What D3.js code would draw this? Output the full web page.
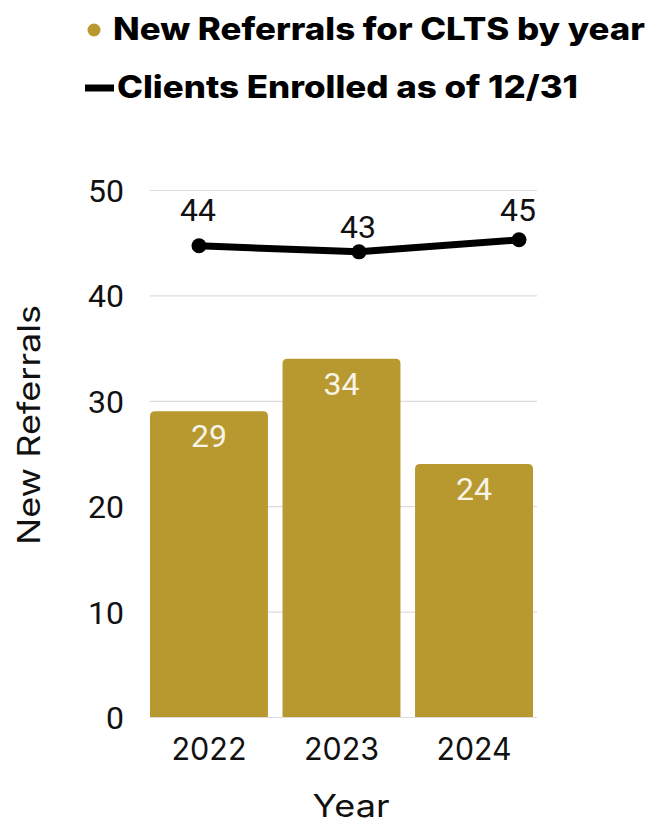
<!DOCTYPE html>
<html><head><meta charset="utf-8">
<script src="https://cdn.jsdelivr.net/npm/d3@7"></script>
<style>body{margin:0;background:#fff}</style>
</head><body>
<script>
const years = ["2022", "2023", "2024"];
const newReferrals = [29, 34, 24];
const clientsEnrolled = [44, 43, 45];
const yTicks = [0, 10, 20, 30, 40, 50];
const legendLabels = ["New Referrals for CLTS by year", "Clients Enrolled as of 12/31"];

const W = 651, H = 823;
const gold = "#b8992f";
const svg = d3.select("body").append("svg").attr("width", W).attr("height", H);

const x = d3.scaleBand().domain(years).range([150, 533]).paddingInner(0.11).paddingOuter(0);
const y = d3.scaleLinear().domain([0, 50]).range([717, 190]);
const xLine = d3.scalePoint().domain(years).range([199, 519]);
const y2 = d3.scaleLinear().domain([-34.5, 53.3]).range([717, 190]);

const numFont = "Roboto, 'Liberation Sans', Arial, sans-serif";
const textFont = "Inter, 'Noto Sans', sans-serif";

// gridlines
const gridG = svg.append("g").attr("transform", "translate(150,0)")
  .call(d3.axisLeft(y).tickValues(yTicks).tickSize(-387).tickFormat(""));
gridG.select(".domain").remove();
gridG.selectAll("line").attr("stroke", "#dcdcdc").attr("stroke-width", 1.2);

// y tick labels
const yAxis = svg.append("g").attr("transform", "translate(124,0)")
  .call(d3.axisLeft(y).tickValues(yTicks).tickSize(0).tickPadding(0));
yAxis.select(".domain").remove();
yAxis.selectAll("text").attr("font-family", numFont).attr("font-size", 32).attr("fill", "#111").attr("dy", "0.36em");

// bars with rounded top corners
const r = 5;
function barPath(x0, w, yTop, yBot) {
  return `M${x0},${yBot} V${yTop + r} Q${x0},${yTop} ${x0 + r},${yTop} H${x0 + w - r} Q${x0 + w},${yTop} ${x0 + w},${yTop + r} V${yBot} Z`;
}
svg.append("g").selectAll("path").data(years).join("path")
  .attr("d", (d, i) => barPath(x(d), x.bandwidth(), y(newReferrals[i]), y(0)))
  .attr("fill", gold);

// bar labels
svg.append("g").selectAll("text").data(years).join("text")
  .attr("x", d => x(d) + x.bandwidth() / 2)
  .attr("y", (d, i) => y(newReferrals[i]) + 36)
  .attr("text-anchor", "middle")
  .attr("font-family", numFont).attr("font-size", 32).attr("fill", "#f7f3e6")
  .text((d, i) => newReferrals[i]);

// x axis labels
const xAxis = svg.append("g").attr("transform", "translate(0,717)")
  .call(d3.axisBottom(x).tickSize(0).tickPadding(0));
xAxis.select(".domain").remove();
xAxis.selectAll("text").attr("font-family", textFont).attr("font-size", 31).attr("fill", "#111")
  .attr("dy", null).attr("y", 43).attr("textLength", 75).attr("lengthAdjust", "spacingAndGlyphs");

// line
const line = d3.line().x((d, i) => xLine(years[i])).y(d => y2(d));
svg.append("path").datum(clientsEnrolled).attr("d", line)
  .attr("fill", "none").attr("stroke", "#000").attr("stroke-width", 7).attr("stroke-linejoin", "round");
svg.append("g").selectAll("circle").data(clientsEnrolled).join("circle")
  .attr("cx", (d, i) => xLine(years[i])).attr("cy", d => y2(d)).attr("r", 7.5).attr("fill", "#000");
const lineLabelDy = [-25, -14, -19];
svg.append("g").selectAll("text").data(clientsEnrolled).join("text")
  .attr("x", (d, i) => xLine(years[i]) - 1)
  .attr("y", (d, i) => y2(d) + lineLabelDy[i])
  .attr("text-anchor", "middle")
  .attr("font-family", numFont).attr("font-size", 32).attr("fill", "#111")
  .text(d => d);

// axis titles
svg.append("text").attr("transform", "translate(40,425) rotate(-90)")
  .attr("text-anchor", "middle").attr("font-family", textFont).attr("font-size", 31).attr("fill", "#111")
  .attr("textLength", 240).attr("lengthAdjust", "spacingAndGlyphs")
  .text("New Referrals");
svg.append("text").attr("x", 351).attr("y", 817)
  .attr("text-anchor", "middle").attr("font-family", textFont).attr("font-size", 31).attr("fill", "#111")
  .attr("textLength", 77).attr("lengthAdjust", "spacingAndGlyphs")
  .text("Year");

// legend
const lg = svg.append("g");
lg.append("circle").attr("cx", 94).attr("cy", 30).attr("r", 6.5).attr("fill", gold);
lg.append("text").attr("x", 113).attr("y", 40)
  .attr("font-family", textFont).attr("font-weight", 800).attr("font-size", 31).attr("fill", "#000")
  .attr("textLength", 532).attr("lengthAdjust", "spacingAndGlyphs")
  .text(legendLabels[0]);
lg.append("line").attr("x1", 85).attr("x2", 114).attr("y1", 88).attr("y2", 88)
  .attr("stroke", "#000").attr("stroke-width", 7);
lg.append("text").attr("x", 117).attr("y", 98)
  .attr("font-family", textFont).attr("font-weight", 800).attr("font-size", 31).attr("fill", "#000")
  .attr("textLength", 461).attr("lengthAdjust", "spacingAndGlyphs")
  .text(legendLabels[1]);
</script>
</body></html>
